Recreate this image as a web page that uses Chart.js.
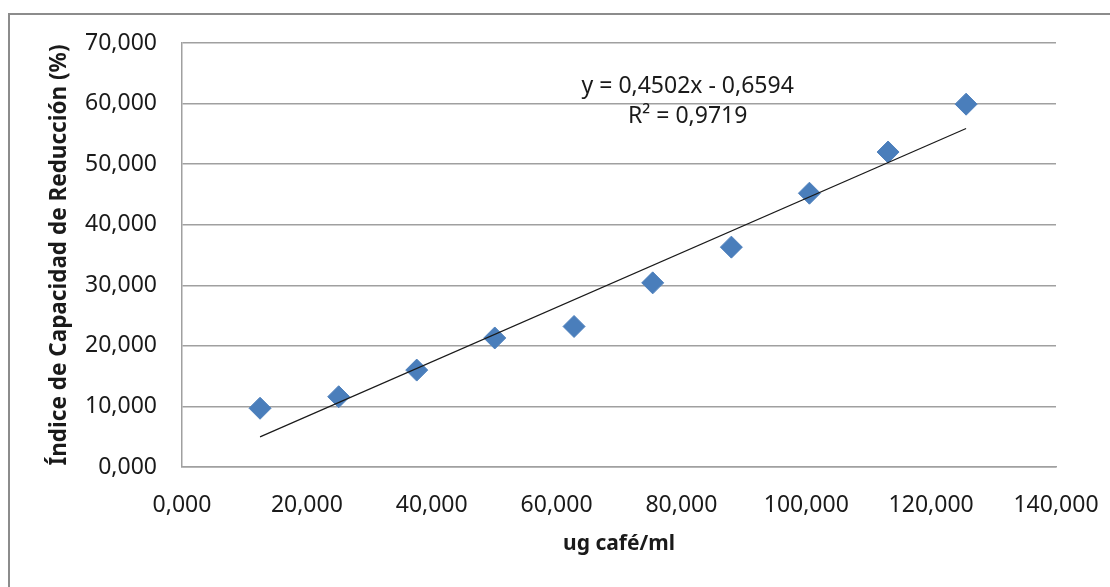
<!DOCTYPE html>
<html>
<head>
<meta charset="utf-8">
<script src="https://cdn.jsdelivr.net/npm/chart.js@4/dist/chart.umd.min.js"></script>
<style>
  html, body { margin: 0; padding: 0; background: #fff; }
  #wrap { width: 1110px; height: 587px; }
</style>
</head>
<body>
<div id="wrap"><canvas id="grafico"></canvas></div>
<script>
// datos
const concentracion = [12.5, 25.1, 37.6, 50.1, 62.8, 75.4, 88.0, 100.5, 113.1, 125.6];
const reduccion = [9.7, 11.6, 16.0, 21.3, 23.2, 30.4, 36.3, 45.2, 52.0, 59.9];
const pendiente = 0.4502;
const intercepto = -0.6594;
const etiquetaEcuacion = "y = 0,4502x - 0,6594";
const etiquetaR2 = "R² = 0,9719";

const puntos = concentracion.map((x, i) => ({ x: x, y: reduccion[i] }));
const xMin = Math.min(...concentracion);
const xMax = Math.max(...concentracion);
const tendencia = [
  { x: xMin, y: pendiente * xMin + intercepto },
  { x: xMax, y: pendiente * xMax + intercepto }
];

const fmt = (v) => v.toFixed(3).replace('.', ',');
const fuente = "'Noto Sans', sans-serif";

const marco = {
  id: 'marco',
  beforeDraw(chart) {
    const c = chart.ctx;
    c.save();
    c.fillStyle = '#fff';
    c.fillRect(0, 0, chart.width, chart.height);
    c.strokeStyle = '#8c8c8c';
    c.lineWidth = 2;
    c.strokeRect(9, 14, chart.width + 20, chart.height + 20);
    c.restore();
  },
  afterDatasetsDraw(chart) {
    const c = chart.ctx;
    const xs = chart.scales.x, ys = chart.scales.y;
    c.save();
    c.fillStyle = '#1a1a1a';
    c.font = "23px " + fuente;
    c.textAlign = 'center';
    c.textBaseline = 'middle';
    c.fillText(etiquetaEcuacion, xs.getPixelForValue(81), ys.getPixelForValue(62.9));
    c.fillText(etiquetaR2, xs.getPixelForValue(81), ys.getPixelForValue(57.8));
    c.restore();
  }
};

new Chart(document.getElementById('grafico'), {
  type: 'scatter',
  data: {
    datasets: [
      {
        label: 'Datos',
        data: puntos,
        pointStyle: 'rectRot',
        pointRadius: 11,
        pointHoverRadius: 11,
        backgroundColor: '#4a7ebb',
        borderColor: '#4f81bd',
        borderWidth: 1,
        order: 2
      },
      {
        label: 'Tendencia',
        type: 'line',
        data: tendencia,
        borderColor: '#1a1a1a',
        borderWidth: 1.2,
        pointRadius: 0,
        fill: false,
        order: 1
      }
    ]
  },
  plugins: [marco],
  options: {
    responsive: true,
    maintainAspectRatio: false,
    animation: false,
    layout: { padding: { left: 0, right: 54, top: 43, bottom: 0 } },
    plugins: { legend: { display: false }, tooltip: { enabled: false } },
    scales: {
      x: {
        type: 'linear',
        min: 0, max: 140,
        ticks: { stepSize: 20, padding: 25, color: '#1a1a1a', font: { family: fuente, size: 23 }, callback: fmt, maxRotation: 0 },
        grid: { display: false, drawTicks: false },
        border: { display: true, color: '#a0a0a0', width: 1.5 },
        title: { display: true, text: 'ug café/ml', color: '#1a1a1a', font: { family: fuente, size: 21, weight: 'bold' }, padding: { top: 8, bottom: 30 } },
        afterFit(s) { s.height = 587 - 467; s.paddingLeft = 0; s.paddingRight = 0; }
      },
      y: {
        min: 0, max: 70,
        ticks: { stepSize: 10, padding: 25, color: '#1a1a1a', font: { family: fuente, size: 23 }, callback: fmt },
        grid: { color: '#a0a0a0', lineWidth: 1.5, drawTicks: false },
        border: { display: true, color: '#a0a0a0', width: 1.5 },
        title: { display: true, text: 'Índice de Capacidad de Reducción (%)', color: '#1a1a1a', font: { family: fuente, size: 22.5, weight: 'bold' }, padding: { top: 46, bottom: 0 } },
        afterFit(s) { s.width = 182; }
      }
    }
  }
});
</script>
</body>
</html>
